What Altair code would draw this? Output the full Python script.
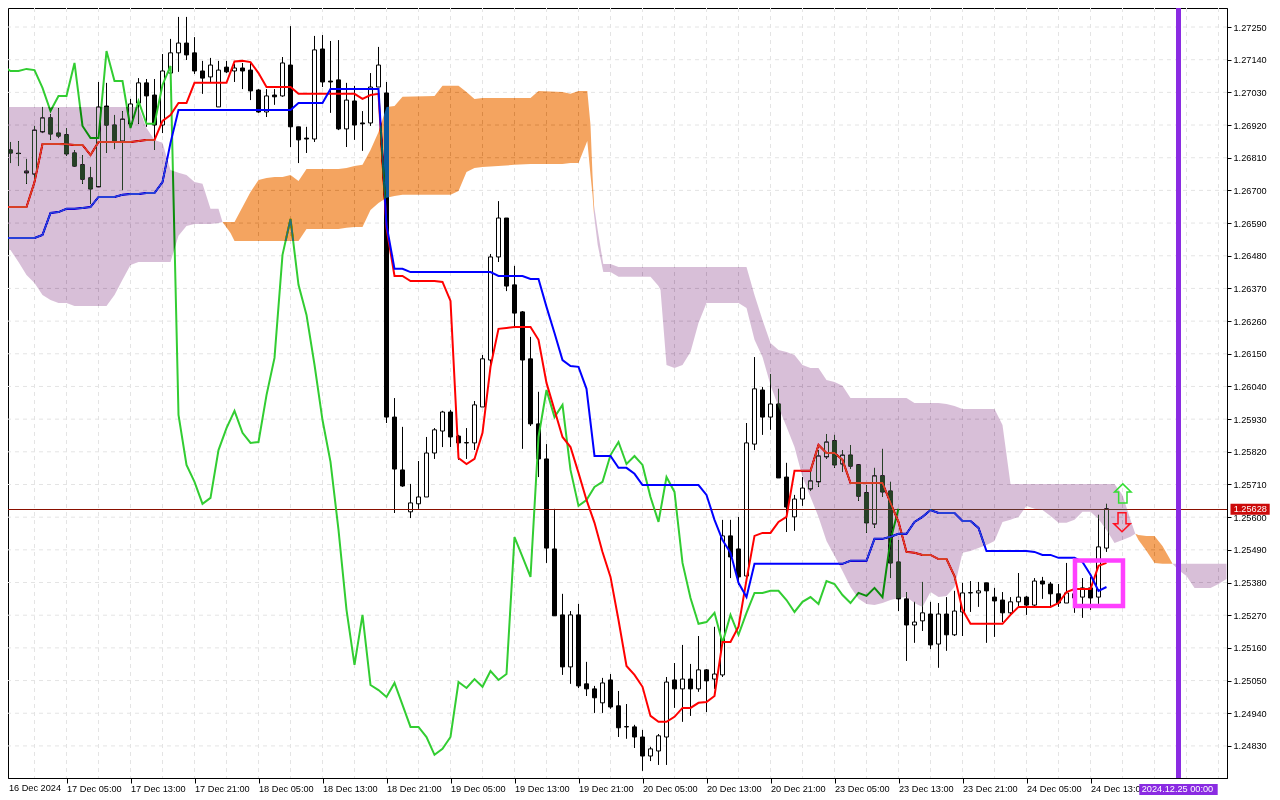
import altair as alt
import pandas as pd

FONT = "Liberation Sans"

# All prices below are in points (1e-5 of the quote)
open_pts = [
    126964,126836,126825,126759,126755,126897,126944,126893,126887,126826,
    126786,126742,126712,126984,126920,126866,126924,126994,127062,127021,
    126920,127095,127163,127196,127163,127102,127082,126981,127115,127102,
    127112,127105,127038,126964,127021,127018,127122,126914,126876,126873,
    127176,127068,127072,126907,127001,126927,126927,127048,127028,125937,
    125759,125618,125645,125668,125816,125890,125954,125873,125851,125850,
    125971,126129,126476,126607,126382,126291,126133,125914,125796,125493,
    125271,125096,125271,125039,125022,124975,125052,124965,124895,124894,
    124860,124796,124813,124860,125052,125022,125055,125022,125086,125055,
    125069,125537,125493,125402,125846,126028,125937,125981,125735,125601,
    125661,125695,125719,125803,125857,125779,125809,125776,125682,125577,
    125739,125688,125449,125325,125237,125251,125274,125173,125274,125204,
    125281,125346,125345,125379,125331,125321,125278,125315,125331,125304,
    125385,125375,125342,125311,125342,125331,125362,125331,125496]
close_pts = [
    126836,126826,126824,126765,126903,126944,126890,126883,126823,126782,
    126738,126705,126981,126920,126866,126940,126991,127062,127018,126920,
    127102,127163,127196,127156,127102,127078,127122,127105,127099,127112,
    127102,127035,126964,127018,127015,127129,126914,126870,126873,127173,
    127065,127065,126907,127004,126920,126924,127048,127122,125937,125762,
    125705,125648,125668,125816,125894,125954,125870,125850,125850,125978,
    126133,126476,126607,126378,126287,126129,125914,125796,125496,125268,
    125096,125271,125032,125022,124992,125042,124961,124891,124894,124860,
    124796,124820,124864,125045,125022,125055,125022,125086,125049,125072,
    125537,125466,125399,125850,126032,125937,125981,125732,125634,125661,
    125698,125722,125806,125853,125776,125809,125772,125671,125581,125739,
    125685,125446,125325,125237,125247,125278,125170,125274,125204,125284,
    125345,125345,125352,125352,125318,125278,125315,125331,125304,125385,
    125375,125342,125311,125345,125328,125362,125328,125500,125628]
high_pts = [
    126964,126863,126866,126806,126917,126981,126957,126977,126910,126836,
    126819,126779,127065,127062,126954,126967,127008,127078,127075,127075,
    127159,127210,127284,127284,127216,127136,127146,127136,127136,127126,
    127129,127132,127041,127041,127041,127149,127253,126914,126914,127220,
    127223,127203,127206,127062,127052,126967,127095,127183,127065,126001,
    125904,125712,125789,125870,125900,125958,125961,125877,125900,125991,
    126146,126486,126664,126607,126446,126294,126207,126022,125846,125628,
    125342,125284,125308,125113,125032,125059,125072,125015,124971,124901,
    124884,124827,124870,125062,125109,125170,125106,125200,125089,125231,
    125591,125591,125601,125917,126139,126038,126082,126032,125783,125675,
    125735,125752,125826,125880,125877,125826,125843,125776,125708,125766,
    125830,125719,125523,125348,125315,125382,125315,125311,125331,125352,
    125379,125385,125382,125379,125362,125348,125331,125412,125335,125395,
    125399,125382,125375,125446,125379,125395,125399,125608,125645]
low_pts = [
    126836,126792,126782,126722,126742,126893,126870,126876,126816,126779,
    126722,126654,126712,126826,126839,126701,126920,126924,126914,126836,
    126893,127038,127099,127139,127092,127025,127065,126981,127095,127065,
    127041,127004,126961,126947,126988,127015,126846,126792,126826,126863,
    127048,126961,126903,126846,126870,126833,126917,127048,125917,125614,
    125702,125597,125628,125668,125796,125836,125836,125793,125796,125826,
    125971,126096,126459,126361,126240,125830,125907,125735,125446,125268,
    125069,125039,125025,124998,124941,124941,124955,124860,124854,124823,
    124746,124779,124766,124766,124958,124911,124931,125012,124944,125022,
    125062,125395,125372,125389,125826,125877,125894,125732,125550,125554,
    125638,125688,125702,125796,125766,125752,125762,125655,125547,125564,
    125668,125395,125284,125116,125177,125217,125156,125093,125150,125200,
    125200,125281,125298,125177,125197,125247,125274,125298,125271,125298,
    125325,125298,125298,125311,125278,125261,125288,125308,125483]

tenkan = [
    126644,126644,126644,126644,126728,126856,126856,126856,126855,126853,
    126853,126819,126863,126863,126863,126863,126863,126866,126870,126870,
    126934,126954,126994,126994,127062,127062,127062,127062,127062,127134,
    127136,127132,127095,127048,127048,127048,127048,127025,127025,127025,
    127025,127025,127025,127025,127025,127008,127021,127025,126574,126412,
    126412,126395,126395,126395,126395,126392,126328,125799,125779,125796,
    125884,126106,126234,126237,126240,126240,126240,126197,126052,125961,
    125870,125836,125749,125658,125581,125483,125399,125254,125099,125069,
    125029,124931,124911,124911,124928,124958,124958,124975,124978,124998,
    125180,125180,125231,125389,125537,125547,125547,125584,125601,125756,
    125756,125756,125843,125816,125816,125793,125715,125715,125715,125715,
    125715,125648,125584,125483,125480,125473,125473,125459,125459,125402,
    125288,125241,125241,125241,125241,125241,125271,125298,125298,125298,
    125298,125298,125311,125348,125358,125358,125358,125436,125446]
kijun = [
    126540,126540,126540,126540,126540,126550,126624,126627,126638,126638,
    126641,126644,126678,126678,126678,126685,126688,126688,126691,126691,
    126728,126860,126971,126971,126971,126971,126971,126971,126971,126971,
    126971,126971,126971,126971,126971,126971,126971,126994,126994,126994,
    126994,127041,127041,127041,127041,127041,127041,127041,126584,126436,
    126436,126425,126425,126425,126425,126425,126425,126425,126425,126425,
    126425,126425,126412,126412,126412,126412,126402,126402,126308,126220,
    126129,126109,126106,126032,125806,125806,125806,125766,125766,125746,
    125708,125708,125708,125708,125708,125708,125708,125708,125675,125591,
    125523,125480,125379,125331,125443,125443,125443,125443,125443,125443,
    125443,125443,125443,125443,125443,125443,125453,125453,125453,125527,
    125527,125534,125544,125544,125584,125601,125624,125614,125614,125614,
    125587,125587,125564,125486,125486,125486,125486,125486,125486,125483,
    125473,125473,125463,125463,125463,125449,125406,125352,125365]
chikou = [
    127119,127102,127102,127109,127105,127045,126967,127018,127018,127129,
    126917,126876,126876,127169,127068,127068,126910,127001,126924,126924,
    127055,127119,125944,125776,125719,125645,125665,125826,125900,125958,
    125884,125850,125853,126011,126136,126483,126604,126382,126281,126113,
    125927,125786,125557,125288,125103,125271,125035,125018,124995,125042,
    124968,124894,124894,124860,124800,124820,124860,125045,125025,125055,
    125029,125082,125052,125072,125533,125466,125399,125870,126028,125937,
    125978,125759,125638,125658,125702,125719,125809,125853,125779,125806,
    125776,125668,125584,125735,125685,125446,125328,125241,125247,125278,
    125177,125271,125204,125278,125345,125345,125352,125352,125321,125281,
    125315,125331,125308,125385,125375,125338,125311,125345,125335,125362,
    125331,125523,125628]

# Kumo segments: bar position, upper edge, lower edge
kumo_a_x = [0.75,1,2,3,4,5,6,7,8,9,10,11,12,13,14,15,16,17,18,19,20,21,22,23,24,25,26,27,27.5]
kumo_a_top = [126981]*18 + [126910,126870,126860,126769,126759,126752,126728,126722,126638,126638,126594]
kumo_a_bot = [126500,126499,126459,126415,126388,126348,126331,126321,126321,126311,126311,126311,126311,126311,
              126348,126399,126449,126459,126459,126459,126459,126459,126547,126580,126587,126587,126587,126590,126594]
kumo_b_x = [27.5,28.5,29,30,31,32,33,34,35,36,37,38,39,40,41,42,43,44,45,46,47,48,49,50,54,55,56,57,58,59,60,64,66,67,70,71,72,73.1,73.5,73.75,73.94]
kumo_b_top = [126594,126594,126594,126644,126695,126735,126742,126745,126745,126752,126732,126772,126772,126772,126772,126772,126775,126782,126786,126836,126897,126981,126984,127015,127018,127052,127052,127052,127031,127008,127011,127011,127011,127035,127031,127025,127035,127035,126920,126752,126651]
kumo_b_bot = [126594,126557,126530,126530,126530,126530,126530,126530,126530,126530,126530,126570,126570,126570,126570,126570,126574,126577,126577,126634,126658,126675,126681,126685,126685,126685,126685,126698,126762,126775,126779,126786,126789,126789,126789,126792,126792,126866,126752,126685,126617]
kumo_c_x = [73.94,74.4,75.1,76,77,78,79,80,81,82,82.25,83,84,85,86,87,88,89,90,91,92,93,94,95,96,97,98,99,100,101,102,103,104,105,106,107,108,109,110,111,112,113,114,115,116,117,118,119,120,121,122,123,124,125,126,127,128,129,130,131,132,133,134,135,136,137,138,139,140,141,141.6]
kumo_c_top = [126651,126567,126452,126452,126442,126442,126442,126442,126442,126442,126442,126442,126442,126442,126442,126442,126442,126442,126442,126442,126442,126442,126348,126264,126186,126163,126156,126146,126112,126102,126102,126062,126055,126042,126001,126001,126001,126001,126001,126001,126001,126001,125984,125984,125984,125984,125981,125974,125964,125964,125964,125964,125964,125910,125712,125712,125712,125712,125712,125712,125712,125712,125712,125712,125712,125712,125712,125712,125675,125591,125544]
kumo_c_bot = [126617,126516,126425,126425,126409,126409,126409,126409,126409,126378,126365,126112,126102,126112,126156,126254,126321,126321,126321,126321,126321,126304,126197,126139,126045,125971,125904,125836,125735,125668,125601,125520,125470,125419,125365,125325,125308,125304,125311,125321,125328,125331,125311,125298,125348,125331,125335,125365,125480,125486,125496,125506,125520,125584,125591,125601,125638,125628,125624,125604,125581,125581,125591,125618,125618,125594,125557,125513,125523,125534,125544]
kumo_d_x = [141.6,142,143,144,145,146,146.25]
kumo_d_top = [125544,125540,125537,125537,125503,125456,125443]
kumo_d_bot = [125544,125523,125486,125446,125443,125443,125443]
kumo_e_x = [146.25,147,148,149,150,151,152,153]
kumo_e_top = [125443]*8
kumo_e_bot = [125443,125422,125402,125362,125362,125362,125375,125392]

x_ticks = [8,16,24,32,40,48,56,64,72,80,88,96,104,112,120,128,136]
x_labels = ["17 Dec 05:00","17 Dec 13:00","17 Dec 21:00","18 Dec 05:00","18 Dec 13:00","18 Dec 21:00",
            "19 Dec 05:00","19 Dec 13:00","19 Dec 21:00","20 Dec 05:00","20 Dec 13:00","20 Dec 21:00",
            "23 Dec 05:00","23 Dec 13:00","23 Dec 21:00","24 Dec 05:00","24 Dec 13:00"]
first_label = "16 Dec 2024"
grid_x = [4,8,12,16,20,24,28,32,36,40,44,48,52,56,60,64,68,72,76,80,84,88,92,96,100,104,108,112,116,120,124,128,132,136,140,144,148,152]
y_ticks = [1.2725,1.2714,1.2703,1.2692,1.2681,1.267,1.2659,1.2648,1.2637,1.2626,1.2615,1.2604,1.2593,1.2582,1.2571,1.256,1.2549,1.2538,1.2527,1.2516,1.2505,1.2494,1.2483]
last_price = 1.256258
period_sep = 147

xs = alt.Scale(domain=[0.6875, 153.0625], nice=False, zero=False, padding=0)
ys = alt.Scale(domain=[1.24722, 1.27314], nice=False, zero=False, padding=0)
label_map = "{" + ",".join(f"'{t}':'{l}'" for t, l in zip(x_ticks, x_labels)) + "}"
x_axis = alt.Axis(values=x_ticks, labelExpr=label_map + "[datum.value]", labelAlign="left", labelBaseline="alphabetic",
                  labelPadding=8, tickSize=5, tickColor="black", domainColor="black", labelColor="black",
                  labelFont=FONT, labelFontSize=9.2, grid=False, title=None, labelOverlap=False, labelBound=False, labelFlush=False)
y_axis = alt.Axis(values=y_ticks, format=".5f", orient="right", tickSize=4, labelPadding=2, tickColor="black", domainColor="black",
                  labelColor="black", labelFont=FONT, labelFontSize=9.2, grid=False, title=None, labelOverlap=False, labelBound=False, labelFlush=False)
X = lambda c="x": alt.X(f"{c}:Q", scale=xs, axis=x_axis)
Y = lambda c="y": alt.Y(f"{c}:Q", scale=ys, axis=y_axis)

n = len(open_pts)
bars = pd.DataFrame({"x": range(n), "o": [v/1e5 for v in open_pts], "c": [v/1e5 for v in close_pts],
                     "h": [v/1e5 for v in high_pts], "l": [v/1e5 for v in low_pts]})
bars["d"] = ["up" if c > o else "down" for o, c in zip(bars.o, bars.c)]

grid_v = alt.Chart(pd.DataFrame({"x": grid_x})).mark_rule(color="#e4e4e4", strokeDash=[4, 4], strokeWidth=1).encode(x=X())
grid_h = alt.Chart(pd.DataFrame({"y": y_ticks})).mark_rule(color="#e4e4e4", strokeDash=[4, 4], strokeWidth=1).encode(y=Y())
wicks = alt.Chart(bars).mark_rule(color="black", strokeWidth=1, clip=True).encode(x=X(), y=Y("h"), y2="l:Q")
bodies = alt.Chart(bars).mark_bar(size=4, stroke="black", strokeWidth=1, clip=True, orient="vertical").encode(
    x=X(), y=Y("o"), y2="c:Q",
    fill=alt.Fill("d:N", scale=alt.Scale(domain=["up", "down"], range=["white", "black"]), legend=None))
price_line = alt.Chart(pd.DataFrame({"y": [last_price]})).mark_rule(color="#8a1000", strokeWidth=1).encode(y=Y())

def line(values, color):
    df = pd.DataFrame({"x": range(len(values)), "y": [v/1e5 for v in values]})
    return alt.Chart(df).mark_line(color=color, strokeWidth=2, clip=True).encode(x=X(), y=Y())

def kumo(xv, top, bot, color):
    df = pd.DataFrame({"x": xv, "y": [v/1e5 for v in top], "y2": [v/1e5 for v in bot]})
    return alt.Chart(df).mark_area(color=color, blend="difference", opacity=1, line=False).encode(
        x=X(), y=Y(), y2="y2:Q")

PURPLE = "#274027"
ORANGE = "#0b5b9f"

sep = alt.Chart(pd.DataFrame({"x": [period_sep]})).mark_rule(color="#8a2be2", strokeWidth=5).encode(x=X())
box = alt.Chart(pd.DataFrame({"x": [134.06], "x2": [140.06], "y": [1.25454], "y2": [1.25301]})).mark_rect(
    fillOpacity=0, stroke="#ff40ff", strokeWidth=4.5).encode(x=X(), x2="x2:Q", y=Y(), y2="y2:Q")
UP = "M0,-1 L0.87,-0.16 L0.44,-0.16 L0.44,1 L-0.44,1 L-0.44,-0.16 L-0.87,-0.16 Z"
DOWN = "M-0.42,-1 L0.42,-1 L0.42,0.15 L0.87,0.15 L0,1 L-0.87,0.15 L-0.42,0.15 Z"
arrow_up = alt.Chart(pd.DataFrame({"x": [140.04], "y": [1.2568]})).mark_point(
    shape=UP, size=361, filled=False, stroke="#33dd33", strokeWidth=1.5, opacity=1).encode(x=X(), y=Y())
arrow_down = alt.Chart(pd.DataFrame({"x": [139.94], "y": [1.25583]})).mark_point(
    shape=DOWN, size=361, filled=False, stroke="#ff1020", strokeWidth=1.5, opacity=1).encode(x=X(), y=Y())

tag1 = alt.Chart(pd.DataFrame({"x": [153.5], "x2": [158.4], "y": [1.25645], "y2": [1.25608]})).mark_rect(color="#cc0a0a").encode(
    x=X(), x2="x2:Q", y=Y(), y2="y2:Q")
tag1t = alt.Chart(pd.DataFrame({"x": [153.9], "y": [1.25626], "t": ["1.25628"]})).mark_text(
    align="left", baseline="middle", color="white", font=FONT, fontSize=9.2).encode(x=X(), y=Y(), text="t:N")
tag2 = alt.Chart(pd.DataFrame({"x": [142.1], "x2": [151.9], "y": [1.24702], "y2": [1.24665]})).mark_rect(color="#8a2be2").encode(
    x=X(), x2="x2:Q", y=Y(), y2="y2:Q")
tag2t = alt.Chart(pd.DataFrame({"x": [142.4], "y": [1.24684], "t": ["2024.12.25 00:00"]})).mark_text(
    align="left", baseline="middle", color="white", font=FONT, fontSize=9.2).encode(x=X(), y=Y(), text="t:N")
first_t = alt.Chart(pd.DataFrame({"x": [0.8], "y": [1.24687], "t": [first_label]})).mark_text(
    align="left", baseline="middle", color="black", font=FONT, fontSize=9.2).encode(x=X(), y=Y(), text="t:N")

chart = alt.layer(
    grid_v, grid_h, wicks, bodies, price_line,
    line(chikou, "#32cd32"), line(tenkan, "#ff0000"), line(kijun, "#0000ff"),
    kumo(kumo_a_x, kumo_a_top, kumo_a_bot, PURPLE),
    kumo(kumo_b_x, kumo_b_top, kumo_b_bot, ORANGE),
    kumo(kumo_c_x, kumo_c_top, kumo_c_bot, PURPLE),
    kumo(kumo_d_x, kumo_d_top, kumo_d_bot, ORANGE),
    kumo(kumo_e_x, kumo_e_top, kumo_e_bot, PURPLE),
    sep, box, arrow_up, arrow_down, tag1, tag1t, tag2, tag2t, first_t,
).properties(width=1219, height=770, background="white",
             padding={"left": 0, "top": 0, "right": 45, "bottom": 22},
             autosize=alt.AutoSizeParams(type="none")
).configure_view(stroke="black", strokeWidth=1)

chart.save("out.html", embed_options={"renderer": "svg", "actions": False})
